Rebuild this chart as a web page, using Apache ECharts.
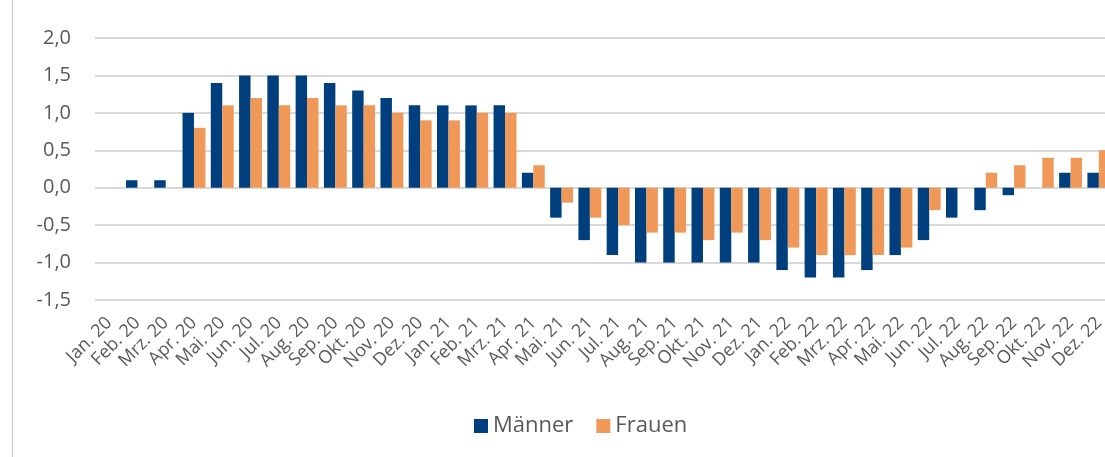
<!DOCTYPE html>
<html>
<head>
<meta charset="utf-8">
<script src="https://cdn.jsdelivr.net/npm/echarts@6/dist/echarts.min.js"></script>
<style>
html,body{margin:0;padding:0;background:#fff;overflow:hidden;}
#chart{width:1115px;height:457px;}
</style>
</head>
<body>
<div id="chart"></div>
<script>
var categories = ['Jan. 20','Feb. 20','Mrz. 20','Apr. 20','Mai. 20','Jun. 20','Jul. 20','Aug. 20','Sep. 20','Okt. 20','Nov. 20','Dez. 20',
  'Jan. 21','Feb. 21','Mrz. 21','Apr. 21','Mai. 21','Jun. 21','Jul. 21','Aug. 21','Sep. 21','Okt. 21','Nov. 21','Dez. 21',
  'Jan. 22','Feb. 22','Mrz. 22','Apr. 22','Mai. 22','Jun. 22','Jul. 22','Aug. 22','Sep. 22','Okt. 22','Nov. 22','Dez. 22'];
var maenner = [0, 0.1, 0.1, 1.0, 1.4, 1.5, 1.5, 1.5, 1.4, 1.3, 1.2, 1.1,
  1.1, 1.1, 1.1, 0.2, -0.4, -0.7, -0.9, -1.0, -1.0, -1.0, -1.0, -1.0,
  -1.1, -1.2, -1.2, -1.1, -0.9, -0.7, -0.4, -0.3, -0.1, 0, 0.2, 0.2];
var frauen = [0, 0, 0, 0.8, 1.1, 1.2, 1.1, 1.2, 1.1, 1.1, 1.0, 0.9,
  0.9, 1.0, 1.0, 0.3, -0.2, -0.4, -0.5, -0.6, -0.6, -0.7, -0.6, -0.7,
  -0.8, -0.9, -0.9, -0.9, -0.8, -0.3, 0, 0.2, 0.3, 0.4, 0.4, 0.5];
var seriesNames = ['Männer', 'Frauen'];
var yMin = -1.5, yMax = 2.0, yStep = 0.5;

var chart = echarts.init(document.getElementById('chart'), null, {renderer: 'canvas'});
var font = 'Open Sans';
chart.setOption({
  animation: false,
  backgroundColor: '#ffffff',
  textStyle: {fontFamily: font},
  grid: {left: 95, top: 38, width: 1018, height: 262, containLabel: false},
  legend: {
    data: seriesNames,
    left: 469, top: 410,
    itemWidth: 14, itemHeight: 14, itemGap: 23,
    icon: 'rect',
    textStyle: {fontFamily: font, fontSize: 22, color: '#595959'}
  },
  xAxis: {
    type: 'category',
    data: categories,
    axisLine: {show: false, onZero: false},
    axisTick: {show: false},
    axisLabel: {rotate: 45, interval: 0, margin: 20, fontFamily: font, fontSize: 18, color: '#595959'}
  },
  yAxis: {
    type: 'value',
    min: yMin, max: yMax, interval: yStep,
    axisLine: {show: false},
    axisTick: {show: false},
    splitLine: {lineStyle: {color: '#d9d9d9', width: 2}},
    axisLabel: {
      margin: 24, fontFamily: font, fontSize: 20, color: '#595959',
      formatter: function (v) { return v.toFixed(1).replace('.', ','); }
    }
  },
  graphic: [{
    type: 'line', shape: {x1: 12.5, y1: 0, x2: 12.5, y2: 457},
    style: {stroke: '#c8c8c8', lineWidth: 1}, silent: true
  }],
  series: [
    {name: seriesNames[0], type: 'bar', data: maenner, barGap: '0%', barCategoryGap: '19%',
     itemStyle: {color: '#003f7d'}},
    {name: seriesNames[1], type: 'bar', data: frauen, barGap: '0%', barCategoryGap: '19%',
     itemStyle: {color: '#f09858'}}
  ]
});
</script>
</body>
</html>
